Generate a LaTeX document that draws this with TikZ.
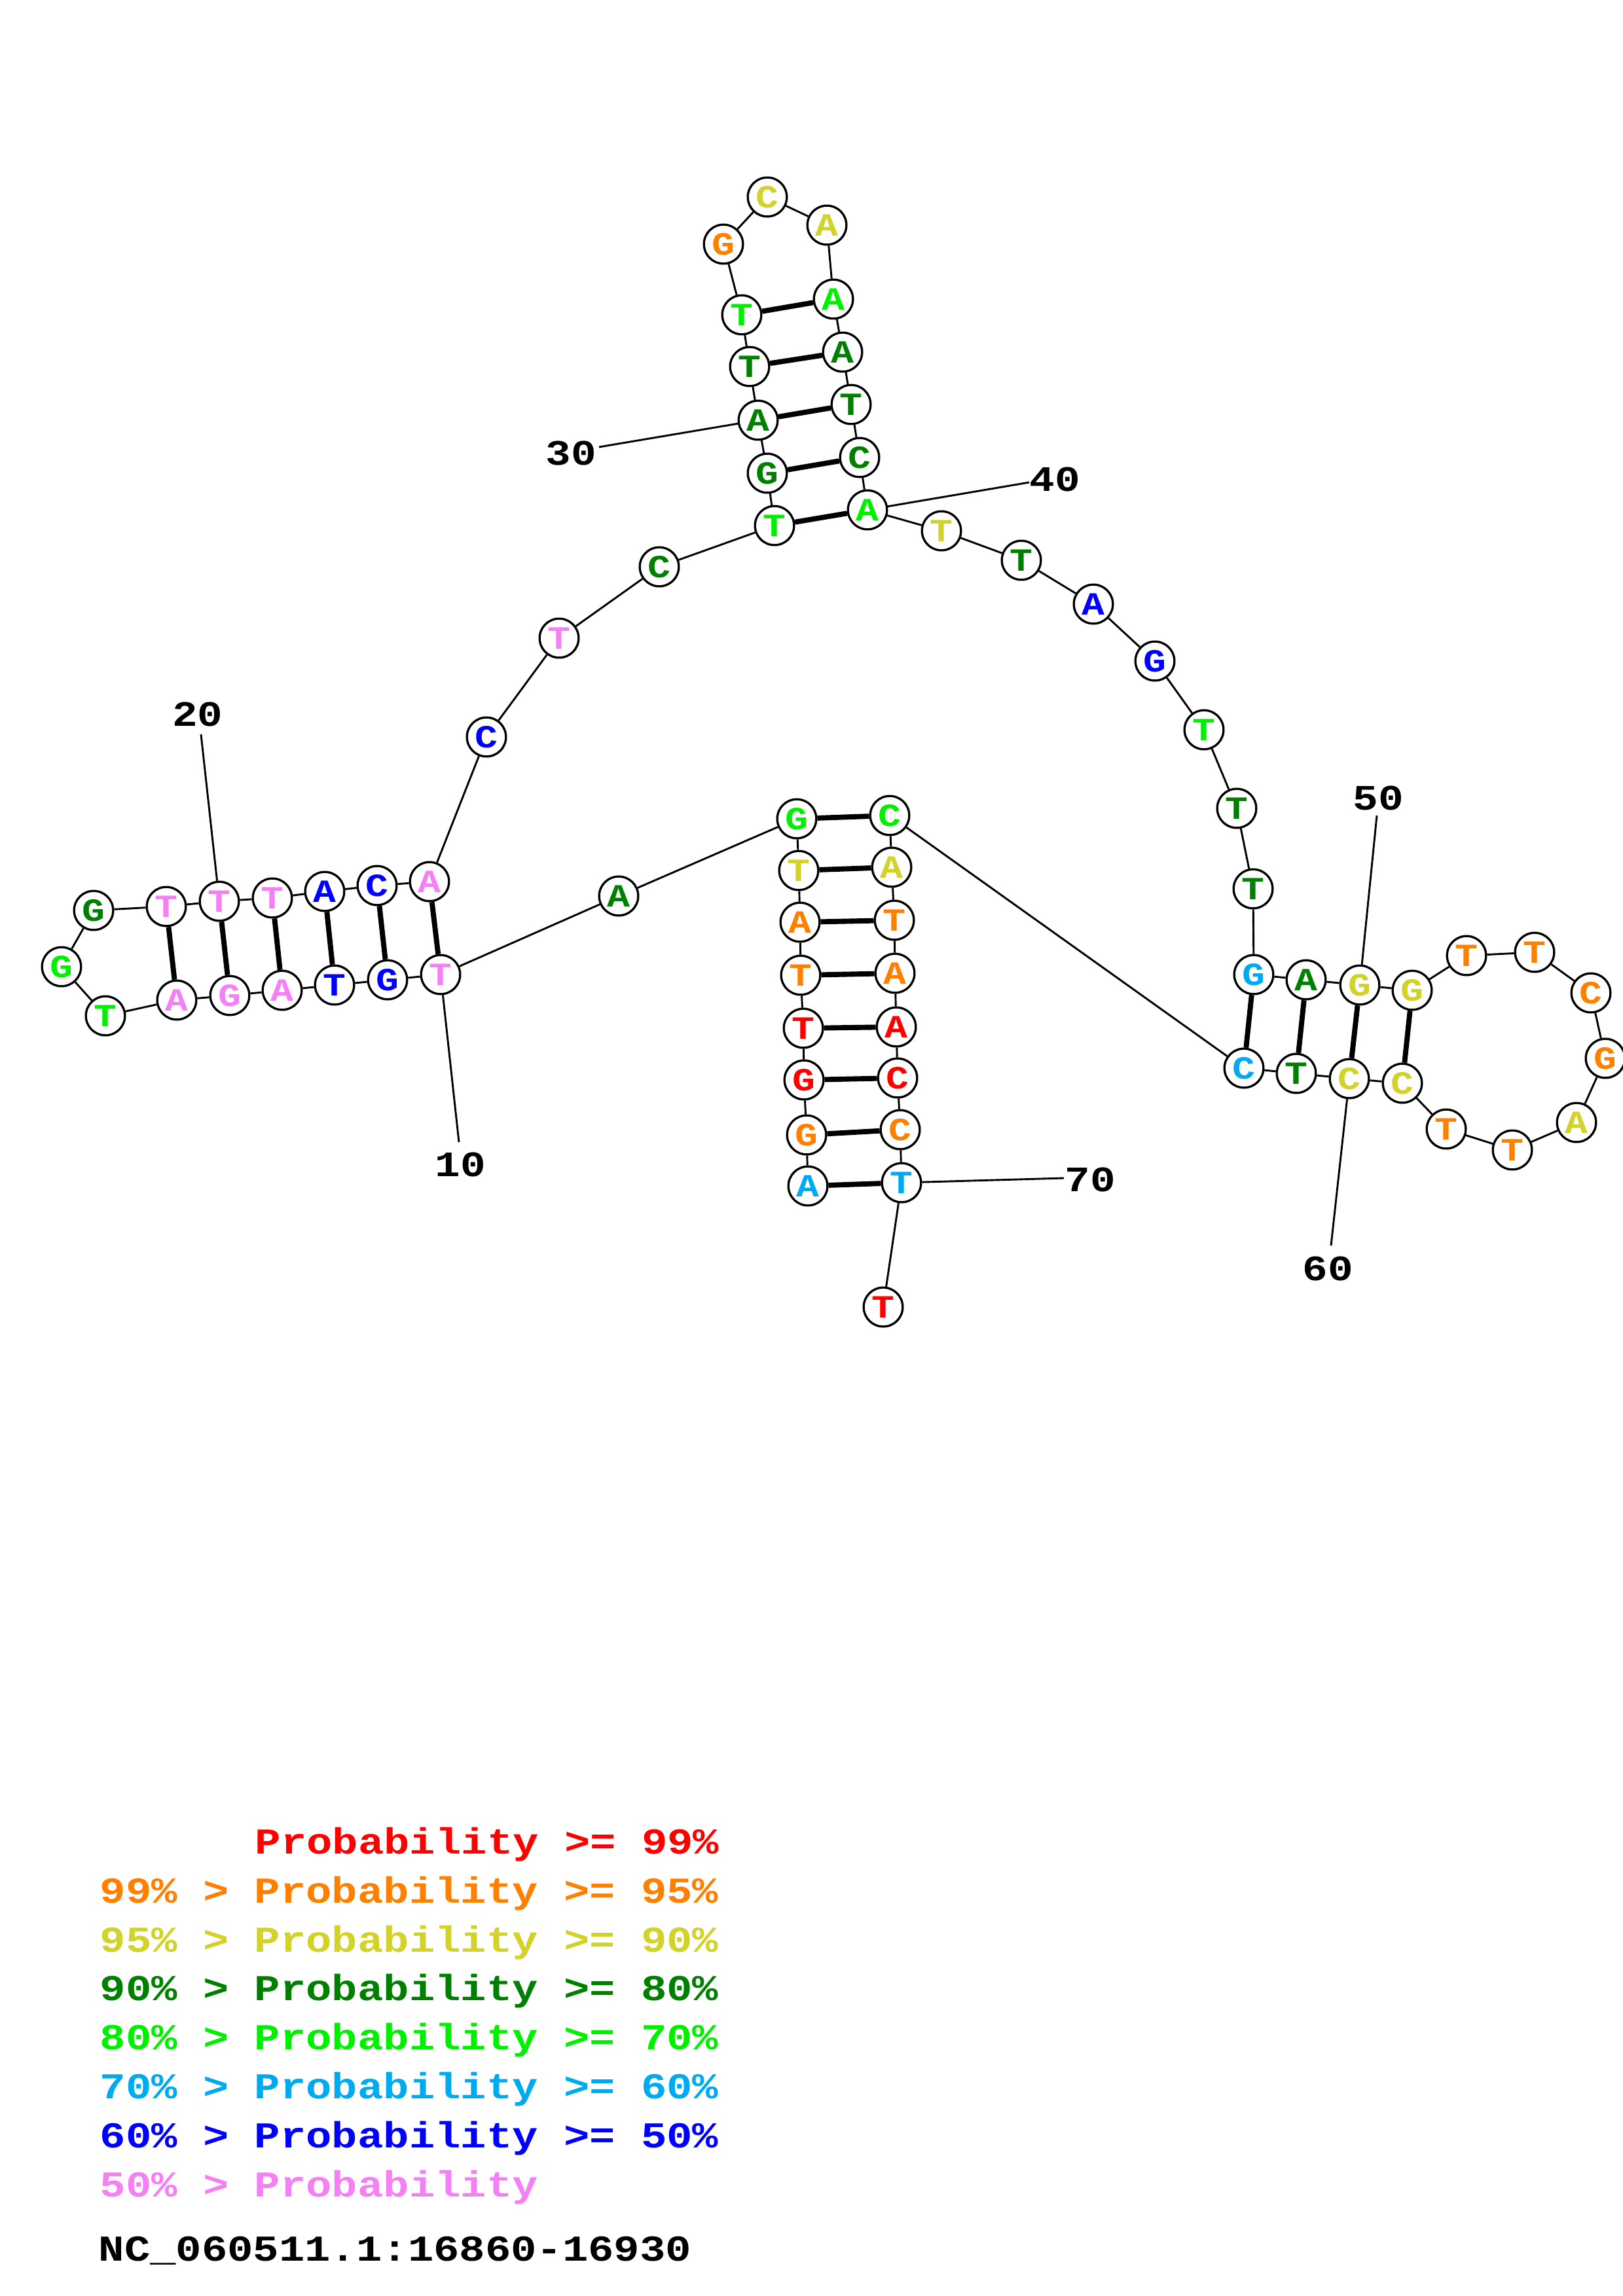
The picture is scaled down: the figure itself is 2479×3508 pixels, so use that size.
\documentclass[tikz,border=0pt]{standalone}
\usepackage{fontspec}
\usepackage{graphicx}
\newfontfamily\monob{Liberation Mono}
\newcommand\ntfont{\monob\bfseries\fontsize{14pt}{16pt}\selectfont}
\newcommand\numfont{\monob\bfseries\fontsize{15.5pt}{17pt}\selectfont}
\newcommand\legfont{\monob\bfseries\fontsize{15.8pt}{18pt}\selectfont}
\newcommand\sq[1]{\scalebox{1}[0.85]{#1}}
\definecolor{cR}{RGB}{255,0,0}
\definecolor{cO}{RGB}{255,128,0}
\definecolor{cY}{RGB}{210,210,40}
\definecolor{cDG}{RGB}{0,128,0}
\definecolor{cG}{RGB}{0,240,0}
\definecolor{cLB}{RGB}{0,170,240}
\definecolor{cB}{RGB}{0,0,255}
\definecolor{cP}{RGB}{245,128,245}
\tikzset{
  nt/.style={circle, draw=black, line width=0.8pt, fill=white, minimum size=5.05mm, inner sep=0pt, font=\ntfont},
  bb/.style={line width=0.7pt},
  bp/.style={line width=1.9pt},
  lab/.style={font=\numfont, inner sep=0pt, text=black},
  leg/.style={font=\legfont, inner sep=0pt, anchor=base west},
}
\begin{document}
\begin{tikzpicture}[x=0.0846667mm, y=-0.0846667mm]
\fill[white] (0,0) rectangle (2479,3508);
\useasboundingbox (0,0) rectangle (2479,3508);
\begin{scope}
\clip (0,0) rectangle (2479,3508);
\foreach \i/\x/\y/\l/\c in {
1/1234/1812/A/cLB, 2/1232/1734/G/cO, 3/1228/1650/G/cR, 4/1227/1571/T/cR,
5/1223/1490/T/cO, 6/1222/1409/A/cO, 7/1220/1330/T/cY, 8/1217/1251/G/cG,
9/945/1369/A/cDG, 10/673/1489/T/cP, 11/592/1497/G/cB, 12/511/1505/T/cB,
13/431/1513/A/cP, 14/351/1521/G/cP, 15/270/1528/A/cP, 16/161/1552/T/cG,
17/94/1477/G/cG, 18/143/1391/G/cDG, 19/254/1385/T/cP, 20/335/1377/T/cP,
21/416/1372/T/cP, 22/496/1362/A/cB, 23/576/1353/C/cB, 24/656/1347/A/cP,
25/743/1126/C/cB, 26/854/975/T/cP, 27/1007/866/C/cDG, 28/1183/803/T/cG,
29/1172/723/G/cDG, 30/1158/642/A/cDG, 31/1145/560/T/cDG, 32/1133/481/T/cG,
33/1105/373/G/cO, 34/1172/301/C/cY, 35/1263/344/A/cY, 36/1273/457/A/cG,
37/1287/538/A/cDG, 38/1300/618/T/cDG, 39/1313/699/C/cDG, 40/1325/779/A/cG,
41/1438/811/T/cY, 42/1560/856/T/cDG, 43/1670/923/A/cB, 44/1764/1010/G/cB,
45/1839/1115/T/cG, 46/1889/1235/T/cDG, 47/1914/1358/T/cDG, 48/1915/1489/G/cLB,
49/1995/1497/A/cDG, 50/2077/1505/G/cY, 51/2157/1513/G/cY, 52/2240/1460/T/cO,
53/2344/1455/T/cO, 54/2430/1517/C/cO, 55/2452/1617/G/cO, 56/2408/1715/A/cY,
57/2310/1757/T/cO, 58/2209/1725/T/cO, 59/2142/1655/C/cY, 60/2061/1648/C/cY,
61/1980/1640/T/cDG, 62/1900/1632/C/cLB, 63/1359/1246/C/cG, 64/1362/1325/A/cY,
65/1366/1406/T/cO, 66/1367/1487/A/cO, 67/1369/1569/A/cR, 68/1371/1647/C/cR,
69/1375/1726/C/cO, 70/1377/1807/T/cLB, 71/1349/1997/T/cR}
  \node[nt, text=\c] (n\i) at (\x,\y) {\sq{\l}};
% backbone
\foreach \i [evaluate=\i as \j using int(\i+1)] in {1,...,70}
  \draw[bb] (n\i) -- (n\j);
% base pairs
\foreach \a/\b in {1/70,2/69,3/68,4/67,5/66,6/65,7/64,8/63,
  10/24,11/23,12/22,13/21,14/20,15/19,
  28/40,29/39,30/38,31/37,32/36,
  48/62,49/61,50/60,51/59}
  \draw[bp] (n\a) -- (n\b);
% numbering
\coordinate (c10) at (701,1745);
\coordinate (c20) at (307,1122);
\coordinate (c30) at (915,683);
\coordinate (c40) at (1572,737);
\coordinate (c50) at (2103,1246);
\coordinate (c60) at (2033,1903);
\coordinate (c70) at (1625,1800);
\foreach \k in {10,20,30,40,50,60,70}
  \draw[bb] (n\k) -- (c\k);
\node[lab] (t10) at (703,1779) {\sq{10}};
\node[lab] (t20) at (302,1091) {\sq{20}};
\node[lab] (t30) at (872,693) {\sq{30}};
\node[lab] (t40) at (1611,732) {\sq{40}};
\node[lab] (t50) at (2105,1219) {\sq{50}};
\node[lab] (t60) at (2028,1938) {\sq{60}};
\node[lab] (t70) at (1665,1802) {\sq{70}};
\end{scope}
% legend
\node[leg, text=cR]  (g1) at (389,2832) {\sq{Probability >= 99\%}};
\node[leg, text=cO]  (g2) at (152,2907) {\sq{99\% > Probability >= 95\%}};
\node[leg, text=cY]  (g3) at (152,2982) {\sq{95\% > Probability >= 90\%}};
\node[leg, text=cDG] (g4) at (152,3056) {\sq{90\% > Probability >= 80\%}};
\node[leg, text=cG]  (g5) at (152,3131) {\sq{80\% > Probability >= 70\%}};
\node[leg, text=cLB] (g6) at (152,3206) {\sq{70\% > Probability >= 60\%}};
\node[leg, text=cB]  (g7) at (152,3281) {\sq{60\% > Probability >= 50\%}};
\node[leg, text=cP]  (g8) at (152,3356) {\sq{50\% > Probability}};
\node[leg, text=black] (g9) at (150,3454) {\sq{NC\_060511.1:16860-16930}};
\end{tikzpicture}
\end{document}
